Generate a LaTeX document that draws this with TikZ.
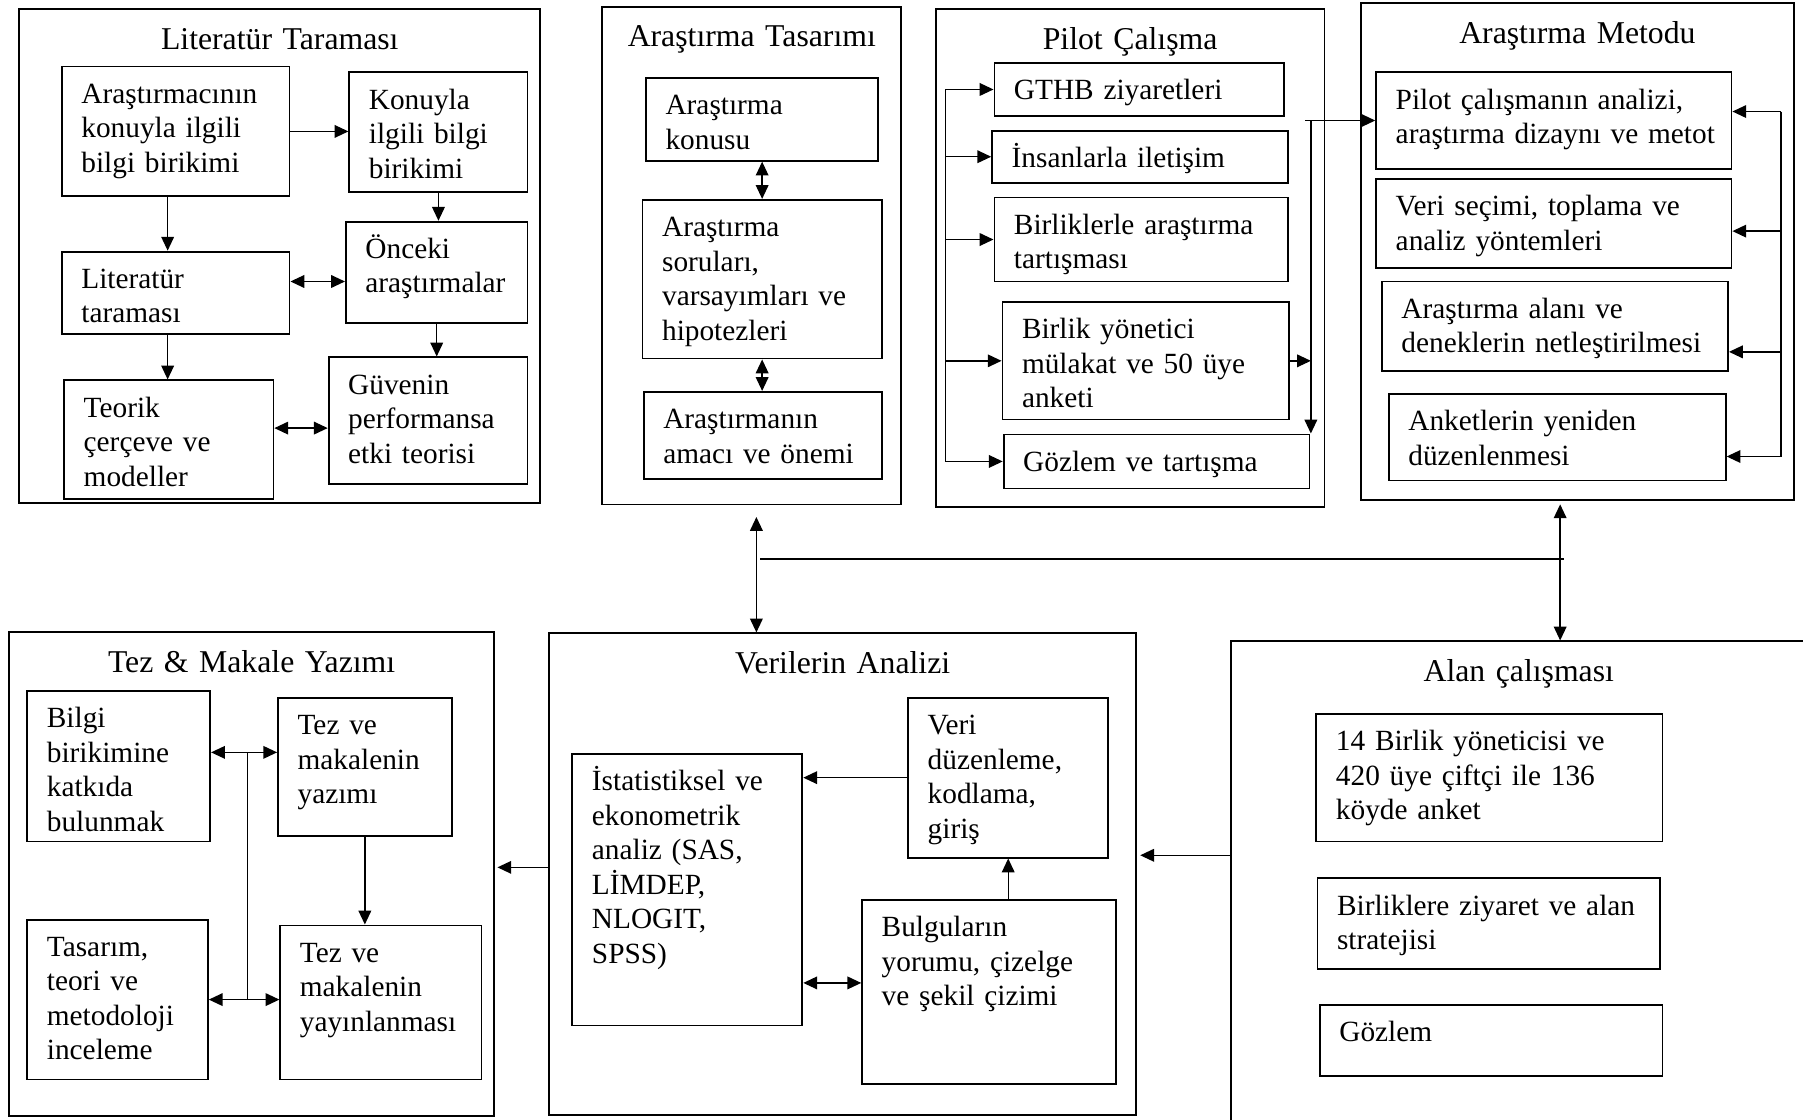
\documentclass[tikz,border=0pt]{standalone}
\usepackage{fontspec}
\setmainfont{Liberation Serif}
\usetikzlibrary{arrows.meta,positioning}
\hyphenpenalty=10000
\exhyphenpenalty=10000

\begin{document}
\begin{tikzpicture}[
  x=0.5pt,y=-0.5pt,
  panel/.style 2 args={draw,line width=0.8pt,anchor=north west,align=center,inner xsep=0pt,inner ysep=3pt,minimum width=#1,text width=#1,text height=14.5pt,text depth=#2-20.5pt,font=\fontsize{13.8}{16}\selectfont},
  box/.style 2 args={draw,line width=0.8pt,anchor=north west,align=left,inner xsep=8.5pt,inner ysep=3pt,minimum width=#1,text width=#1-17pt,text height=13pt,text depth=#2-19pt,font=\fontsize{12.75}{15}\selectfont},
  arrow/.style={-{Triangle[length=6pt,width=5.5pt]},line width=0.6pt},
  dbl/.style={{Triangle[length=6pt,width=5.5pt]}-{Triangle[length=6pt,width=5.5pt]},line width=0.6pt},
  wire/.style={line width=0.6pt}
]
\clip (0,0) rectangle (1568,974);

% upper row
\node[panel={226.5pt}{215pt}] (lit) at (16,7) {Literatür Taraması};
\node[box={99pt}{56.5pt}] (prior) at (53,57) {Araştırmacının\\konuyla ilgili\\bilgi birikimi};
\node[box={77.5pt}{52pt}] (topic) at (303,62) {Konuyla\\ilgili bilgi\\birikimi};
\node[box={99pt}{36pt}] (review) at (53,218) {Literatür\\taraması};
\node[box={79pt}{44pt}] (earlier) at (300,192) {Önceki\\araştırmalar};
\node[box={91pt}{51.5pt}] (theory) at (55,330) {Teorik\\çerçeve ve\\modeller};
\node[box={86.5pt}{55pt}] (trust) at (285,310) {Güvenin\\performansa\\etki teorisi};

\node[panel={130pt}{216.5pt}] (tasar) at (523,5) {Araştırma Tasarımı};
\node[box={101pt}{36pt}] (subj) at (561,67) {Araştırma\\konusu};
\node[box={104pt}{69pt}] (quest) at (558,173) {Araştırma\\soruları,\\varsayımları ve\\hipotezleri};
\node[box={103.5pt}{38pt}] (aim) at (559,340) {Araştırmanın\\amacı ve önemi};

\node[panel={169pt}{216.5pt}] (pilot) at (813,7) {Pilot Çalışma};
\node[box={126pt}{23pt}] (gthb) at (864,54) {GTHB ziyaretleri};
\node[box={128.5pt}{22.5pt}] (comm) at (862,113) {İnsanlarla iletişim};
\node[box={127.5pt}{36.5pt}] (union) at (864,171) {Birliklerle araştırma\\tartışması};
\node[box={124.5pt}{51pt}] (mgr) at (871,262) {Birlik yönetici\\mülakat ve 50 üye\\anketi};
\node[box={133pt}{23.5pt}] (obs) at (872,377) {Gözlem ve tartışma};

\node[panel={188pt}{216pt}] (metod) at (1183,2) {Araştırma Metodu};
\node[box={154.5pt}{42pt}] (plan) at (1196,62) {Pilot çalışmanın analizi,\\araştırma~dizaynı~ve~metot};
\node[box={154.5pt}{38.5pt}] (sel) at (1196,155) {Veri seçimi, toplama ve\\analiz yöntemleri};
\node[box={150.5pt}{39pt}] (area) at (1201,244) {Araştırma alanı ve\\deneklerin~netleştirilmesi};
\node[box={146.5pt}{37.5pt}] (redo) at (1207,342) {Anketlerin yeniden\\düzenlenmesi};

% lower row
\node[panel={211pt}{210.5pt}] (tez) at (7,549) {Tez \& Makale Yazımı};
\node[box={79.5pt}{65.5pt}] (contrib) at (23,600) {Bilgi\\birikimine\\katkıda\\bulunmak};
\node[box={75.5pt}{60pt}] (write) at (241,606) {Tez ve\\makalenin\\yazımı};
\node[box={78.5pt}{69.5pt}] (design) at (23,799) {Tasarım,\\teori ve\\metodoloji\\inceleme};
\node[box={87.5pt}{67pt}] (publish) at (243,804) {Tez ve\\makalenin\\yayınlanması};

\node[panel={255pt}{209.5pt}] (veri) at (477,550) {Verilerin Analizi};
\node[box={100pt}{118pt}] (stats) at (497,655) {İstatistiksel ve\\ekonometrik\\analiz (SAS,\\LİMDEP,\\NLOGIT,\\SPSS)};
\node[box={87pt}{69.5pt}] (clean) at (789,606) {Veri\\düzenleme,\\kodlama,\\giriş};
\node[box={110.5pt}{80pt}] (interp) at (749,782) {Bulguların\\yorumu, çizelge\\ve şekil çizimi};

\node[panel={250pt}{215pt}] (alan) at (1070,557) {Alan çalışması};
\node[box={150.5pt}{55.5pt}] (survey) at (1144,620) {14 Birlik yöneticisi ve\\420 üye çiftçi ile 136\\köyde anket};
\node[box={149pt}{39.5pt}] (visit) at (1145,763) {Birliklere ziyaret ve alan\\stratejisi};
\node[box={149pt}{31pt}] (watch) at (1147,873) {Gözlem};

% literature
\draw[arrow] (prior.east) -- (prior.east -| topic.west);
\draw[arrow] ([xshift=-3.5pt]prior.south) -- ([xshift=-3.5pt]prior.south |- review.north);
\draw[arrow] (topic.south) -- (topic.south |- earlier.north);
\draw[dbl] ([yshift=5pt]review.east) -- ([yshift=5pt]review.east -| earlier.west);
\draw[arrow] ([xshift=-3.5pt]review.south) -- ([xshift=-3.5pt]review.south |- theory.north);
\draw[arrow] (earlier.south) -- (earlier.south |- trust.north);
\draw[dbl] ([yshift=5pt]theory.east) -- ([yshift=5pt]theory.east -| trust.west);

% design
\draw[dbl] (subj.south) -- (subj.south |- quest.north);
\draw[dbl] (quest.south) -- (quest.south |- aim.north);

% pilot
\coordinate (lbus) at (822,0);
\coordinate (rbus) at (1140,0);
\draw[wire] (gthb.west -| lbus) -- (obs.west -| lbus);
\draw[arrow] (gthb.west -| lbus) -- (gthb.west);
\draw[arrow] (comm.west -| lbus) -- (comm.west);
\draw[arrow] (union.west -| lbus) -- (union.west);
\draw[arrow] (mgr.west -| lbus) -- (mgr.west);
\draw[arrow] (obs.west -| lbus) -- (obs.west);
\draw[arrow] (mgr.east) -- (mgr.east -| rbus);
\draw[arrow] (plan.west -| rbus) -- (obs.north -| rbus);
\draw[arrow] ([xshift=-2.5pt]plan.west -| rbus) -- (plan.west);

% method
\coordinate (m1) at (1549,97);
\coordinate (m2) at (1549,201);
\coordinate (m3) at (1549,306);
\coordinate (m4) at (1549,397);
\draw[wire] (m1) -- (m4);
\draw[arrow] (m1) -- (m1 -| plan.east);
\draw[arrow] (m2) -- (m2 -| sel.east);
\draw[arrow] (m3) -- (m3 -| area.east);
\draw[arrow] (m4) -- (m4 -| redo.east);

% between rows
\coordinate (j1) at (661,486);
\coordinate (j2) at (1360,486);
\draw[dbl] ([xshift=2pt,yshift=-5pt]tasar.south) -- ([xshift=2pt]tasar.south |- veri.north);
\draw[dbl] ([xshift=-7.5pt,yshift=-1.5pt]metod.south) -- ([xshift=-7.5pt]metod.south |- alan.north);
\draw[wire] (j1) -- (j2);
\draw[arrow] ([yshift=8.25pt]veri.east -| alan.west) -- ([yshift=8.25pt,xshift=1.5pt]veri.east);
\draw[arrow] ([yshift=3pt]veri.west) -- ([yshift=3pt,xshift=1pt]veri.west -| tez.east);

% writing
\coordinate (tbus) at (215,0);
\draw[dbl] ([yshift=6pt]contrib.east) -- ([yshift=6pt]contrib.east -| write.west);
\draw[dbl] (design.east) -- (design.east -| publish.west);
\draw[wire] ([yshift=6pt]contrib.east -| tbus) -- (design.east -| tbus);
\draw[arrow] (write.south) -- (write.south |- publish.north);

% analysis
\draw[arrow] (clean.west) -- (clean.west -| stats.east);
\draw[arrow] (interp.north -| clean.south) -- (clean.south);
\draw[dbl] ([yshift=4pt]interp.west -| stats.east) -- ([yshift=4pt]interp.west);
\end{tikzpicture}
\end{document}
